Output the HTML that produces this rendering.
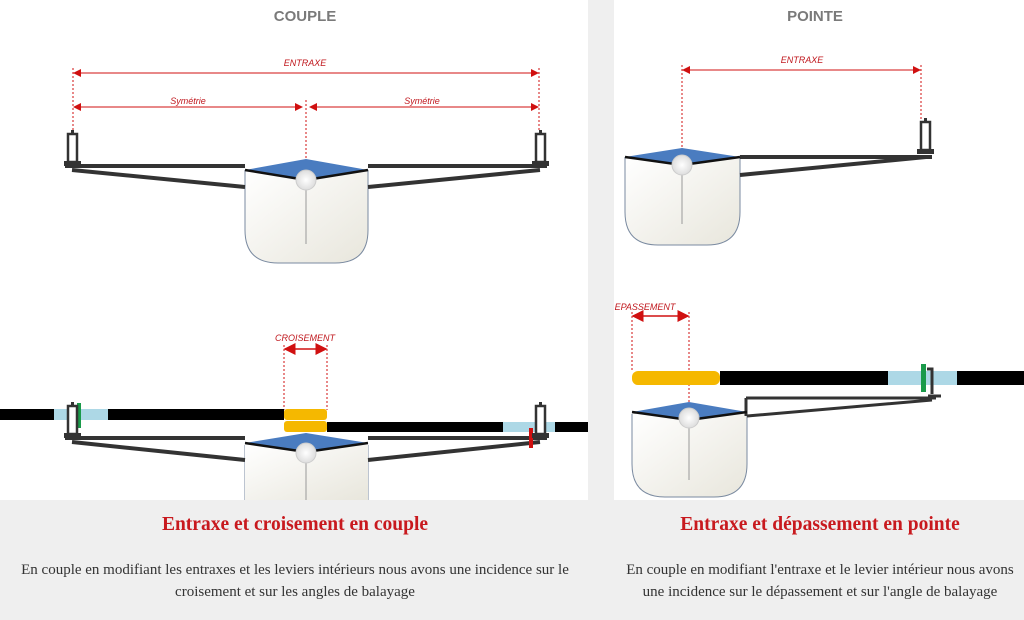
<!DOCTYPE html>
<html><head><meta charset="utf-8"><style>
body{margin:0;width:1024px;height:620px;background:#efefef;overflow:hidden;font-family:"Liberation Serif",serif}
svg{position:absolute;left:0;top:0}
</style></head><body>
<svg width="1024" height="620" viewBox="0 0 1024 620" xmlns="http://www.w3.org/2000/svg">
<defs>
<linearGradient id="hull" x1="0" y1="0" x2="1" y2="1"><stop offset="0" stop-color="#fff"/><stop offset="1" stop-color="#e8e6dc"/></linearGradient>
<radialGradient id="ball"><stop offset="0" stop-color="#fff"/><stop offset="1" stop-color="#ddd"/></radialGradient>
<marker id="ar" markerWidth="8" markerHeight="8" refX="7" refY="4" orient="auto-start-reverse"><path d="M0,0 L8,4 L0,8z" fill="#d01010"/></marker>
<g id="rl"><rect x="-4" y="-30" width="9" height="28" fill="#fff" stroke="#333" stroke-width="2.5"/><rect x="-1" y="-34" width="3" height="5" fill="#333"/><rect x="-8" y="-3" width="17" height="5" fill="#333"/></g>
</defs>
<rect x="0" y="0" width="588" height="500" fill="#fff"/>
<rect x="614" y="0" width="410" height="500" fill="#fff"/>
<g font-family="Liberation Sans,sans-serif" font-weight="bold" font-size="15" fill="#7a7a7a" text-anchor="middle"><text x="305" y="21">COUPLE</text><text x="815" y="21">POINTE</text></g>
<g stroke="#d01010" stroke-width="1" fill="none">
<line x1="74" y1="73" x2="538" y2="73" marker-start="url(#ar)" marker-end="url(#ar)"/>
<line x1="74" y1="107" x2="302" y2="107" marker-start="url(#ar)" marker-end="url(#ar)"/>
<line x1="310" y1="107" x2="538" y2="107" marker-start="url(#ar)" marker-end="url(#ar)"/>
<g stroke-dasharray="2,2"><line x1="73" y1="68" x2="73" y2="130"/><line x1="539" y1="68" x2="539" y2="130"/><line x1="306" y1="100" x2="306" y2="160"/>
<line x1="682" y1="65" x2="682" y2="150"/><line x1="921" y1="65" x2="921" y2="122"/>
<line x1="284" y1="345" x2="284" y2="410"/><line x1="327" y1="345" x2="327" y2="410"/>
<line x1="632" y1="312" x2="632" y2="372"/><line x1="689" y1="312" x2="689" y2="405"/></g>
<line x1="683" y1="70" x2="920" y2="70" marker-start="url(#ar)" marker-end="url(#ar)"/>
<line x1="285" y1="349" x2="326" y2="349" marker-start="url(#ar)" marker-end="url(#ar)" stroke-width="1.5"/>
<line x1="633" y1="316" x2="688" y2="316" marker-start="url(#ar)" marker-end="url(#ar)" stroke-width="1.5"/>
</g>
<g font-family="Liberation Sans,sans-serif" font-style="italic" font-size="9" fill="#c0181e" text-anchor="middle">
<text x="305" y="66">ENTRAXE</text><text x="188" y="104">Symétrie</text><text x="422" y="104">Symétrie</text>
<text x="802" y="63">ENTRAXE</text><text x="305" y="341">CROISEMENT</text><text x="645" y="310">EPASSEMENT</text></g>
<g>
<path d="M245,170 V230 Q245,263 278,263 H335 Q368,263 368,230 V170" fill="url(#hull)" stroke="#7a8aa0"/>
<line x1="306" y1="180" x2="306" y2="244" stroke="#999"/>
<path d="M65,166 H245 M72,170 L245,187 M547,166 H368 M540,170 L368,187" stroke="#333" stroke-width="4" fill="none"/>
<path d="M245,170 L306,159 L368,170 L306,180z" fill="#4a7cc0"/><path d="M245,170 L306,180 L368,170" stroke="#111" stroke-width="2.5" fill="none"/>
<circle cx="306" cy="180" r="10" fill="url(#ball)" stroke="#ccc"/>
<use href="#rl" x="72" y="164"/><use href="#rl" x="540" y="164"/>
</g>
<g>
<path d="M245,445 V500 M368,445 V500" stroke="#7a8aa0"/><rect x="245" y="445" width="123" height="55" fill="url(#hull)"/>
<line x1="306" y1="452" x2="306" y2="500" stroke="#999"/>
<path d="M65,438 H245 M72,442 L245,460 M547,438 H368 M540,442 L368,460" stroke="#333" stroke-width="4" fill="none"/>
<path d="M245,443 L306,433 L368,443 L306,452z" fill="#4a7cc0"/><path d="M245,443 L306,452 L368,443" stroke="#111" stroke-width="2.5" fill="none"/>
<circle cx="306" cy="453" r="10" fill="url(#ball)" stroke="#ccc"/>
<rect x="0" y="409" width="54" height="11" fill="#000"/><rect x="54" y="409" width="54" height="11" fill="#add8e6"/><rect x="108" y="409" width="176" height="11" fill="#000"/>
<rect x="284" y="409" width="43" height="11" rx="3" fill="#f5b800"/><rect x="284" y="421" width="43" height="11" rx="3" fill="#f5b800"/>
<rect x="327" y="422" width="176" height="10" fill="#000"/><rect x="503" y="422" width="52" height="10" fill="#add8e6"/><rect x="555" y="422" width="33" height="10" fill="#000"/>
<rect x="77" y="403" width="4" height="25" fill="#1a9a4a"/><use href="#rl" x="72" y="436"/>
<rect x="529" y="428" width="4" height="20" fill="#d01010"/><use href="#rl" x="540" y="436"/>
</g>
<g>
<path d="M625,157 V212 Q625,245 658,245 H707 Q740,245 740,212 V157" fill="url(#hull)" stroke="#7a8aa0"/>
<line x1="682" y1="165" x2="682" y2="224" stroke="#999"/>
<path d="M740,157 H932 M740,175 L926,157" stroke="#333" stroke-width="4" fill="none"/>
<path d="M625,157 L682,148 L740,157 L682,165z" fill="#4a7cc0"/><path d="M625,157 L682,165 L740,157" stroke="#111" stroke-width="2.5" fill="none"/>
<circle cx="682" cy="165" r="10" fill="url(#ball)" stroke="#ccc"/>
<use href="#rl" x="925" y="152"/>
</g>
<g>
<path d="M632,414 V464 Q632,497 665,497 H714 Q747,497 747,464 V414" fill="url(#hull)" stroke="#7a8aa0"/>
<line x1="689" y1="420" x2="689" y2="480" stroke="#999"/>
<path d="M746,398 H936 M747,416 L932,400 M746,398 V416" stroke="#333" stroke-width="3" fill="none"/>
<path d="M632,412 L689,402 L747,412 L689,420z" fill="#4a7cc0"/><path d="M632,412 L689,420 L747,412" stroke="#111" stroke-width="2.5" fill="none"/>
<circle cx="689" cy="418" r="10" fill="url(#ball)" stroke="#ccc"/>
<rect x="632" y="371" width="88" height="14" rx="6" fill="#f5b800"/><rect x="720" y="371" width="168" height="14" fill="#000"/><rect x="888" y="371" width="69" height="14" fill="#add8e6"/><rect x="957" y="371" width="67" height="14" fill="#000"/>
<rect x="921" y="364" width="5" height="28" fill="#1a9a4a"/>
<path d="M927,369 H932 V394 M928,396 H941" stroke="#333" stroke-width="3" fill="none"/>
</g>
<g font-family="Liberation Serif,serif" font-weight="bold" font-size="19.5" fill="#c8191e" text-anchor="middle">
<text x="295" y="530">Entraxe et croisement en couple</text><text x="820" y="530">Entraxe et dépassement en pointe</text></g>
<g font-family="Liberation Serif,serif" font-size="15" fill="#333" text-anchor="middle">
<text x="295" y="574">En couple en modifiant les entraxes et les leviers intérieurs nous avons une incidence sur le</text>
<text x="295" y="596">croisement et sur les angles de balayage</text>
<text x="820" y="574">En couple en modifiant l'entraxe et le levier intérieur nous avons</text>
<text x="820" y="596">une incidence sur le dépassement et sur l'angle de balayage</text></g>
</svg>
</body></html>
